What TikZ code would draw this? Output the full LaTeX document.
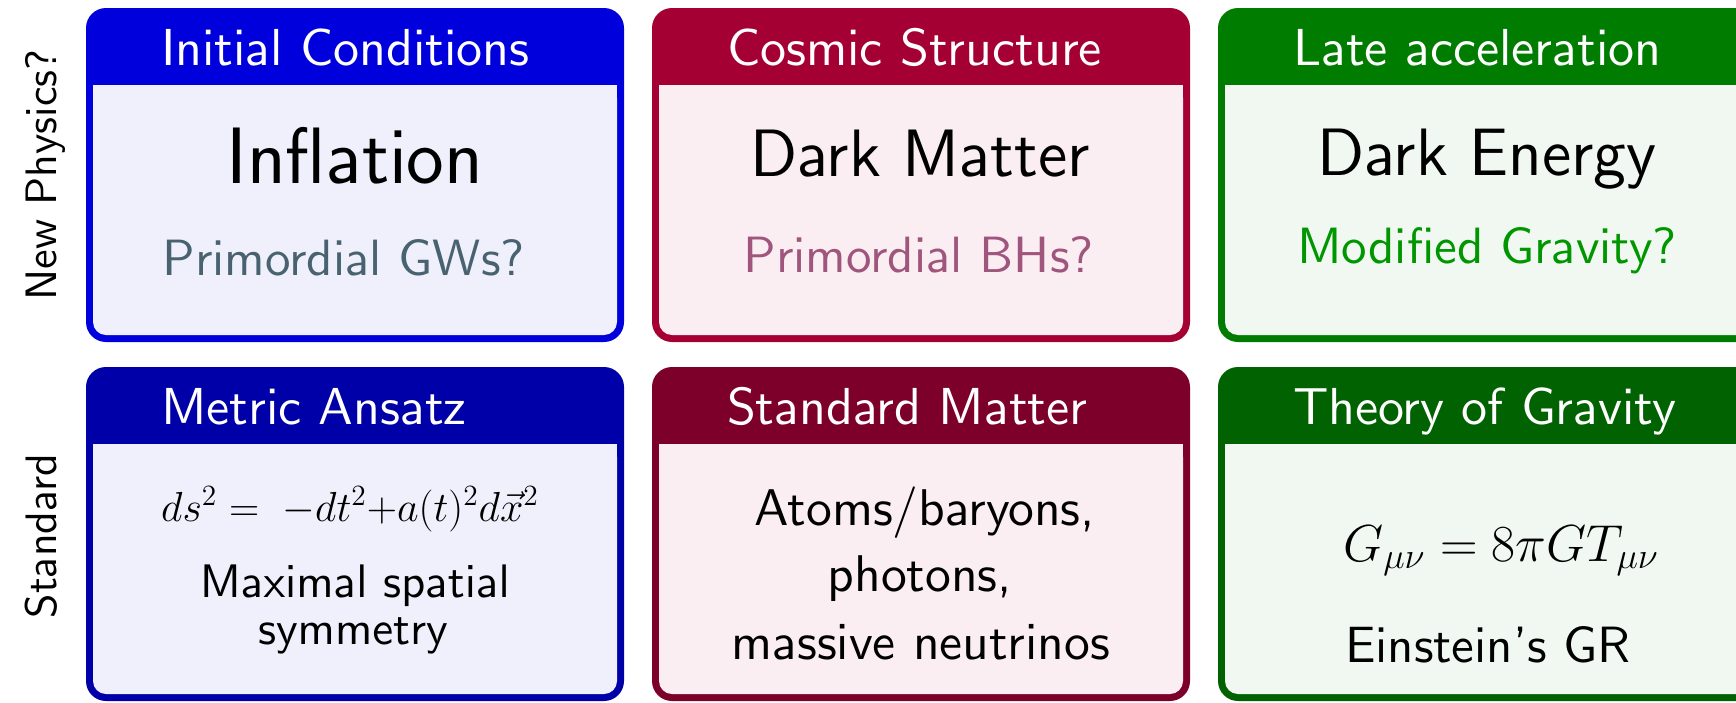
\documentclass[tikz,border=0pt]{standalone}
\usepackage{fix-cm}
\DeclareFontFamily{OT1}{sfA}{}
\DeclareFontShape{OT1}{sfA}{m}{n}{<-> cmss10}{}
\DeclareFontFamily{OT1}{sfB}{}
\DeclareFontShape{OT1}{sfB}{m}{n}{<-> cmss12}{}
\DeclareFontFamily{OT1}{sfC}{}
\DeclareFontShape{OT1}{sfC}{m}{n}{<-> cmss17}{}
\newcommand\fA[1]{\fontencoding{OT1}\fontfamily{sfA}\fontseries{m}\fontshape{n}\fontsize{#1}{#1}\selectfont}
\newcommand\fB[1]{\fontencoding{OT1}\fontfamily{sfB}\fontseries{m}\fontshape{n}\fontsize{#1}{#1}\selectfont}
\newcommand\fC[1]{\fontencoding{OT1}\fontfamily{sfC}\fontseries{m}\fontshape{n}\fontsize{#1}{#1}\selectfont}
\definecolor{blueT}{RGB}{0,0,220}
\definecolor{blueB}{RGB}{0,0,168}
\definecolor{blueBack}{RGB}{240,240,252}
\definecolor{redT}{RGB}{165,0,52}
\definecolor{redB}{RGB}{125,0,42}
\definecolor{redBack}{RGB}{250,238,243}
\definecolor{greenT}{RGB}{0,125,0}
\definecolor{greenB}{RGB}{0,98,0}
\definecolor{greenBack}{RGB}{241,248,241}
\definecolor{gwCol}{RGB}{72,98,112}
\definecolor{bhCol}{RGB}{160,85,125}
\definecolor{mgCol}{RGB}{0,150,0}
\newcommand\panel[4]{%
  \begin{scope}[shift={(#1,#2)}]
    \fill[#3, rounded corners=10pt] (0,0) rectangle (538,334);
    \fill[#4, rounded corners=6.5pt] (7,77) rectangle (531,327);
    \fill[#4] (7,77) rectangle (531,110);
  \end{scope}}
\tikzset{
  txt/.style={inner sep=0pt, outer sep=0pt, anchor=base},
  ttl/.style={inner sep=0pt, outer sep=0pt, anchor=base west, text=white, font=\fA{26}},
  side/.style={inner sep=0pt, outer sep=0pt, anchor=base, rotate=90, font=\fA{22}}
}
\begin{document}
\begin{tikzpicture}[x=0.5pt, y=-0.5pt]
\useasboundingbox (0,0) rectangle (1736,702);
\clip (0,0) rectangle (1736,702);
\fill[white] (0,0) rectangle (1736,702);
% panels
\panel{86}{8}{blueT}{blueBack}
\panel{652}{8}{redT}{redBack}
\panel{1218}{8}{greenT}{greenBack}
\panel{86}{367}{blueB}{blueBack}
\panel{652}{367}{redB}{redBack}
\panel{1218}{367}{greenB}{greenBack}
% side labels
\node[side] (np) at (56,175) {New Physics?};
\node[side] (st) at (56,536) {Standard};
% titles
\node[ttl] (t1) at (161,65) {Initial Conditions};
\node[ttl] (t2) at (727,65) {Cosmic Structure};
\node[ttl] (t3) at (1293,65) {Late acceleration};
\node[ttl] (t4) at (161,424) {Metric Ansatz};
\node[ttl] (t5) at (727,424) {Standard Matter};
\node[ttl] (t6) at (1293,424) {Theory of Gravity};
% row 1 content
\node[txt, font=\fC{40}] (infl) at (355,183) {Inflation};
\node[txt, font=\fA{25.5}, text=gwCol] (gw) at (344,275) {Primordial GWs?};
\node[txt, font=\fB{33.5}] (dm) at (920,176) {Dark Matter};
\node[txt, font=\fA{25.5}, text=bhCol] (bh) at (919,272) {Primordial BHs?};
\node[txt, font=\fB{33.5}] (de) at (1487,175) {Dark Energy};
\node[txt, font=\fA{25.5}, text=mgCol] (mg) at (1487,263) {Modified Gravity?};
% row 2 content
\node[txt, font=\fA{21}] (ds) at (350,521) {$ds^2 = \;-dt^2{+}a(t)^2d\vec{x}^2$};
\node[txt, font=\fA{23.5}] (ms1) at (355,597) {Maximal spatial};
\node[txt, font=\fA{23.5}] (ms2) at (353,644) {symmetry};
\node[txt, font=\fA{25.8}] (sm1) at (925,525) {Atoms/baryons,};
\node[txt, font=\fA{25.8}] (sm2) at (920,591) {photons,};
\node[txt, font=\fA{25.8}] (sm3) at (921,659) {massive neutrinos};
\node[txt, font=\fA{26}] (ein) at (1501,561) {$G_{\mu\nu} = 8\pi G T_{\mu\nu}$};
\node[txt, font=\fA{25.5}] (gr) at (1488,662) {Einstein's GR};
\end{tikzpicture}
\end{document}
